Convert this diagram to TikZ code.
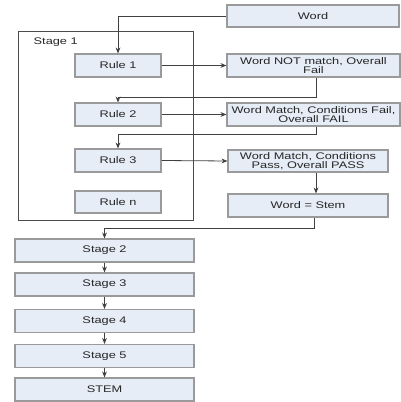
\documentclass[tikz,border=0pt]{standalone}
\usepackage{fontspec}
\setmainfont[FakeStretch=1.33]{Liberation Sans}
\usetikzlibrary{arrows.meta}
\definecolor{boxfill}{HTML}{E6EDF7}
\definecolor{boxline}{HTML}{9A9A9A}
\definecolor{lineclr}{HTML}{404040}
\begin{document}
\begin{tikzpicture}[x=0.75pt,y=-0.75pt,
  box/.style={draw=boxline,fill=boxfill,line width=0.8pt,inner sep=0pt,align=center,
    font=\fontsize{7.2}{6.6}\selectfont,text=black!85},
  arr/.style={draw=lineclr,line width=0.6pt,-{Stealth[length=4.5pt,width=3.6pt]}},
  frame/.style={draw=black!70,line width=0.7pt}]
\useasboundingbox (0,0) rectangle (400,402);
\draw[frame] (18,31) rectangle (193,220);
\node[anchor=west,font=\fontsize{7.2}{6.6}\selectfont,text=black!85] (s1) at (29,42) {Stage 1};
\node[box,minimum width=172*0.75pt,minimum height=22*0.75pt] (word) at (313,16) {Word};
\node[box,minimum width=86*0.75pt,minimum height=23*0.75pt] (r1) at (118,65.5) {Rule 1};
\node[box,minimum width=173*0.75pt,minimum height=23*0.75pt] (res1) at (313.5,65.5) {Word NOT match, Overall\\Fail};
\node[box,minimum width=86*0.75pt,minimum height=23*0.75pt] (r2) at (118,114.5) {Rule 2};
\node[box,minimum width=173*0.75pt,minimum height=23*0.75pt] (res2) at (313.5,114.5) {Word Match, Conditions Fail,\\Overall FAIL};
\node[box,minimum width=86*0.75pt,minimum height=23*0.75pt] (r3) at (118,160.5) {Rule 3};
\node[box,minimum width=160*0.75pt,minimum height=22*0.75pt] (res3) at (308,161) {Word Match, Conditions\\Pass, Overall PASS};
\node[box,minimum width=86*0.75pt,minimum height=22*0.75pt] (rn) at (118,202) {Rule n};
\node[box,minimum width=160*0.75pt,minimum height=23*0.75pt] (ws) at (308,205.5) {Word = Stem};
\node[box,minimum width=179*0.75pt,minimum height=23*0.75pt] (st2) at (104.5,250.5) {Stage 2};
\node[box,minimum width=179*0.75pt,minimum height=23*0.75pt] (st3) at (104.5,284.5) {Stage 3};
\node[box,minimum width=179*0.75pt,minimum height=23*0.75pt] (st4) at (104.5,321) {Stage 4};
\node[box,minimum width=179*0.75pt,minimum height=23*0.75pt] (st5) at (104.5,356) {Stage 5};
\node[box,minimum width=179*0.75pt,minimum height=23*0.75pt] (stem) at (104.5,389.5) {STEM};
\draw[arr] (word.west) -| (r1.north);
\draw[arr] (r1.east) -- (res1.west);
\draw[arr] ([xshift=2.5pt]res1.south) -- ++(0,20) -| (r2.north);
\draw[arr] (r2.east) -- (res2.west);
\draw[arr] ([xshift=2.5pt]res2.south) -- ++(0,8) -| (r3.north);
\draw[arr] (r3.east) -- (res3.west);
\draw[arr] ([xshift=6pt]res3.south) -- ([xshift=6pt]ws.north);
\draw[arr] ([xshift=5pt]ws.south) -- ++(0,11) -| (st2.north);
\draw[arr] (st2) -- (st3);
\draw[arr] (st3) -- (st4);
\draw[arr] (st4) -- (st5);
\draw[arr] (st5) -- (stem);
\end{tikzpicture}
\end{document}
